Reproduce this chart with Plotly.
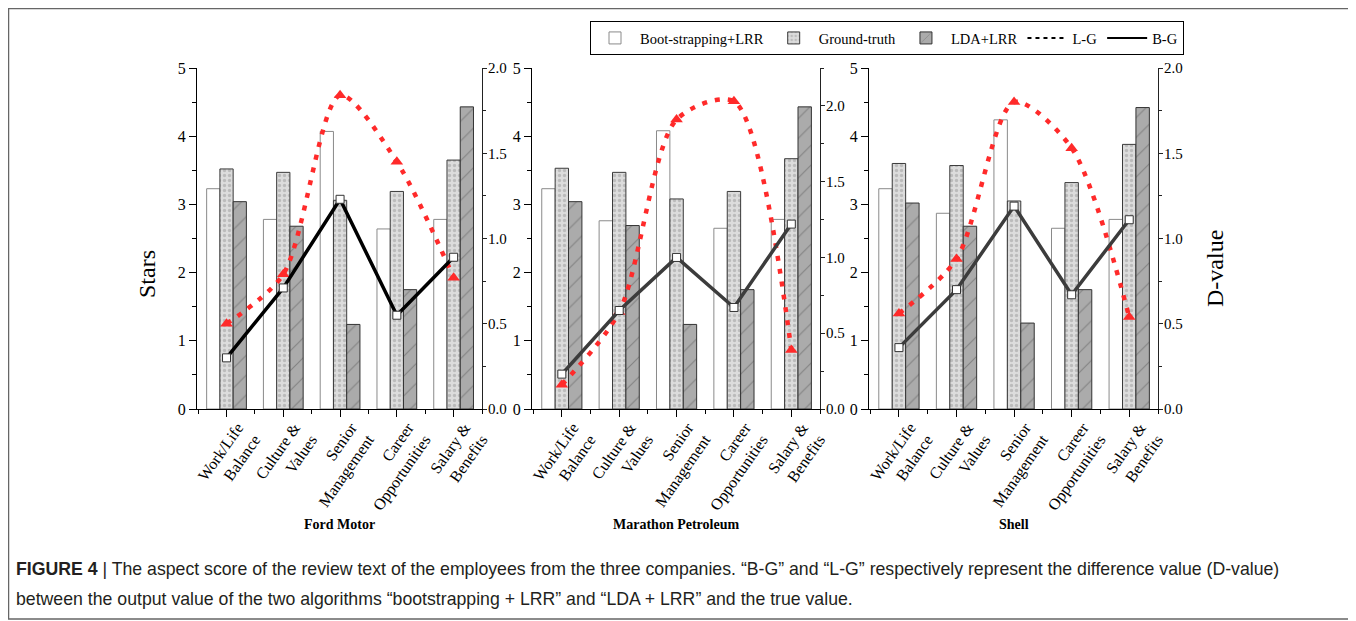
import plotly.graph_objects as go

# page body has an 8px margin: figure is drawn 8px right/down of the window origin
OFF = 8
W, H = 1356 - OFF, 621 - OFF

categories = ["Work/Life<br>Balance", "Culture &<br>Values", "Senior<br>Management",
              "Career<br>Opportunities", "Salary &<br>Benefits"]
companies = ["Ford Motor", "Marathon Petroleum", "Shell"]

# Stars (left axis)
ford_boot = [3.23, 2.78, 4.07, 2.64, 2.78]
ford_ground = [3.52, 3.47, 3.06, 3.19, 3.65]
ford_lda = [3.04, 2.68, 1.24, 1.75, 4.43]
marathon_boot = [3.23, 2.76, 4.08, 2.65, 2.78]
marathon_ground = [3.53, 3.47, 3.08, 3.19, 3.67]
marathon_lda = [3.04, 2.69, 1.24, 1.75, 4.43]
shell_boot = [3.23, 2.87, 4.24, 2.65, 2.78]
shell_ground = [3.60, 3.57, 3.05, 3.32, 3.88]
shell_lda = [3.02, 2.68, 1.26, 1.75, 4.42]

# D-values (right axis)
ford_bg = [0.30, 0.71, 1.23, 0.55, 0.89]
ford_lg = [0.50, 0.79, 1.84, 1.45, 0.77]
marathon_bg = [0.23, 0.65, 1.00, 0.67, 1.22]
marathon_lg = [0.16, 0.64, 1.91, 2.03, 0.39]
shell_bg = [0.36, 0.70, 1.19, 0.67, 1.11]
shell_lg = [0.56, 0.88, 1.80, 1.53, 0.54]

d_ranges = [[0, 2.0], [0, 2.25], [0, 2.0]]

boots = [ford_boot, marathon_boot, shell_boot]
grounds = [ford_ground, marathon_ground, shell_ground]
ldas = [ford_lda, marathon_lda, shell_lda]
bgs = [ford_bg, marathon_bg, shell_bg]
lgs = [ford_lg, marathon_lg, shell_lg]

SERIF = "Liberation Serif, Times New Roman, serif"


def px(x):
    return (x - OFF) / W


def py(y):
    return 1 - (y - OFF) / H


# screen-pixel layout
xpix = [(197, 482), (532, 820), (869, 1158)]
ytop, ybot = 68, 409
ydom = [py(ybot), py(ytop)]
bg_colors = ["#000000", "#3c3c3c", "#3c3c3c"]

xs = list(range(len(categories)))

fig = go.Figure()
layout = {}
for i in range(3):
    xa = "x" if i == 0 else f"x{i+1}"
    ya = "y" if i == 0 else f"y{2*i+1}"
    ya2 = f"y{2*i+2}"
    first = i == 0
    fig.add_trace(go.Bar(x=xs, y=boots[i], name="Boot-strapping+LRR", xaxis=xa, yaxis=ya,
                         marker=dict(color="white", line=dict(color="#8a8a8a", width=1)),
                         showlegend=first, legendgroup="boot"))
    fig.add_trace(go.Bar(x=xs, y=grounds[i], name="Ground-truth", xaxis=xa, yaxis=ya,
                         marker=dict(color="#dcdcdc", line=dict(color="#3a3a3a", width=1),
                                     pattern=dict(shape=".", fgcolor="#9a9a9a", bgcolor="#dcdcdc",
                                                  size=5, solidity=0.35)),
                         showlegend=first, legendgroup="gt"))
    fig.add_trace(go.Bar(x=xs, y=ldas[i], name="LDA+LRR", xaxis=xa, yaxis=ya,
                         marker=dict(color="#ababab", line=dict(color="#333333", width=1),
                                     pattern=dict(shape="/", fgcolor="#5a5a5a", bgcolor="#ababab",
                                                  size=14, solidity=0.08)),
                         showlegend=first, legendgroup="lda"))
    fig.add_trace(go.Scatter(x=xs, y=lgs[i], xaxis=xa, yaxis=ya2, mode="lines+markers",
                             name="L-G", showlegend=False,
                             line=dict(color="#ff2a2a", width=4.5, dash="5px,8px", shape="spline",
                                       smoothing=0.8),
                             marker=dict(symbol="triangle-up", size=11, color="#ff2a2a")))
    fig.add_trace(go.Scatter(x=xs, y=bgs[i], xaxis=xa, yaxis=ya2, mode="lines+markers",
                             name="B-G", showlegend=False,
                             line=dict(color=bg_colors[i], width=3.5),
                             marker=dict(symbol="square", size=8, color="white",
                                         line=dict(color="#333333", width=1))))

    x0, x1 = xpix[i]
    xkey = "xaxis" if i == 0 else f"xaxis{i+1}"
    ykey = "yaxis" if i == 0 else f"yaxis{2*i+1}"
    y2key = f"yaxis{2*i+2}"
    layout[xkey] = dict(domain=[px(x0), px(x1)], anchor=ya, range=[-0.52, 4.5],
                        tickvals=xs, ticktext=categories, tickangle=-55, automargin=False,
                        ticklabelshift=11, ticklabelstandoff=-5,
                        showline=True, linecolor="black", linewidth=1,
                        ticks="outside", ticklen=7, tickcolor="black",
                        minor=dict(tick0=0.5, dtick=1, ticks="outside", ticklen=4, tickcolor="black"),
                        showgrid=False, zeroline=False,
                        tickfont=dict(family=SERIF, size=16, color="black"))
    layout[ykey] = dict(domain=ydom, anchor=xa, range=[0, 5], tickvals=[0, 1, 2, 3, 4, 5],
                        automargin=False,
                        showline=True, linecolor="black", linewidth=1,
                        ticks="outside", ticklen=7, tickcolor="black",
                        minor=dict(dtick=0.5, ticks="outside", ticklen=4, tickcolor="black"),
                        showgrid=False, zeroline=False,
                        tickfont=dict(family=SERIF, size=16, color="black"))
    layout[y2key] = dict(domain=ydom, anchor=xa, overlaying=ya, side="right", automargin=False,
                         range=d_ranges[i], tickvals=[0, 0.5, 1.0, 1.5, 2.0], tickformat=".1f",
                         ticklabelstandoff=-2,
                         showline=True, linecolor="#222222", linewidth=1,
                         ticks="outside", ticklen=4, tickcolor="#222222",
                         minor=dict(dtick=0.25, ticks="outside", ticklen=3, tickcolor="#222222"),
                         showgrid=False, zeroline=False,
                         tickfont=dict(family=SERIF, size=15, color="black"))

# legend-only line entries
fig.add_trace(go.Scatter(x=[None], y=[None], mode="lines", name="L-G",
                         line=dict(color="black", width=2, dash="4px,4px")))
fig.add_trace(go.Scatter(x=[None], y=[None], mode="lines", name="B-G",
                         line=dict(color="black", width=2)))

annotations = []
for i, name in enumerate(companies):
    x0, x1 = xpix[i]
    annotations.append(dict(text=f"<b>{name}</b>", x=px((x0 + x1) / 2), y=py(524),
                            xref="paper", yref="paper", xanchor="center", yanchor="middle",
                            showarrow=False, font=dict(family=SERIF, size=14, color="black")))
annotations.append(dict(text="Stars", x=px(147), y=py(274), xref="paper", yref="paper",
                        xanchor="center", yanchor="middle", showarrow=False, textangle=-90,
                        font=dict(family=SERIF, size=24, color="black")))
annotations.append(dict(text="D-value", x=px(1215), y=py(269), xref="paper", yref="paper",
                        xanchor="center", yanchor="middle", showarrow=False, textangle=-90,
                        font=dict(family=SERIF, size=24, color="black")))
CAP = "Liberation Sans, Arial, sans-serif"
annotations.append(dict(
    text="<b>FIGURE 4</b> | The aspect score of the review text of the employees from the three companies. "
         "\u201cB-G\u201d and \u201cL-G\u201d respectively represent the difference value (D-value)",
    x=px(14), y=py(569), xref="paper", yref="paper", xanchor="left", yanchor="middle",
    showarrow=False, font=dict(family=CAP, size=17.7, color="#231f20")))
annotations.append(dict(
    text="between the output value of the two algorithms \u201cbootstrapping + LRR\u201d and "
         "\u201cLDA + LRR\u201d and the true value.",
    x=px(14), y=py(599), xref="paper", yref="paper", xanchor="left", yanchor="middle",
    showarrow=False, font=dict(family=CAP, size=17.7, color="#231f20")))

shapes = [dict(type="rect", xref="paper", yref="paper", x0=px(8.5), x1=px(1352),
               y0=py(619), y1=py(8.5), line=dict(color="#666666", width=1.5))]

fig.update_layout(
    width=W, height=H,
    margin=dict(l=0, r=0, t=0, b=0, autoexpand=False),
    paper_bgcolor="white", plot_bgcolor="white",
    barmode="group", bargap=0.3, bargroupgap=0,
    showlegend=True,
    legend=dict(orientation="h", x=px(590), y=py(21), xanchor="left", yanchor="top",
                bordercolor="black", borderwidth=1, bgcolor="white",
                font=dict(family=SERIF, size=14.5, color="black"),
                itemwidth=40, tracegroupgap=0),
    annotations=annotations,
    shapes=shapes,
    **layout,
)

fig.write_html("out.html")
